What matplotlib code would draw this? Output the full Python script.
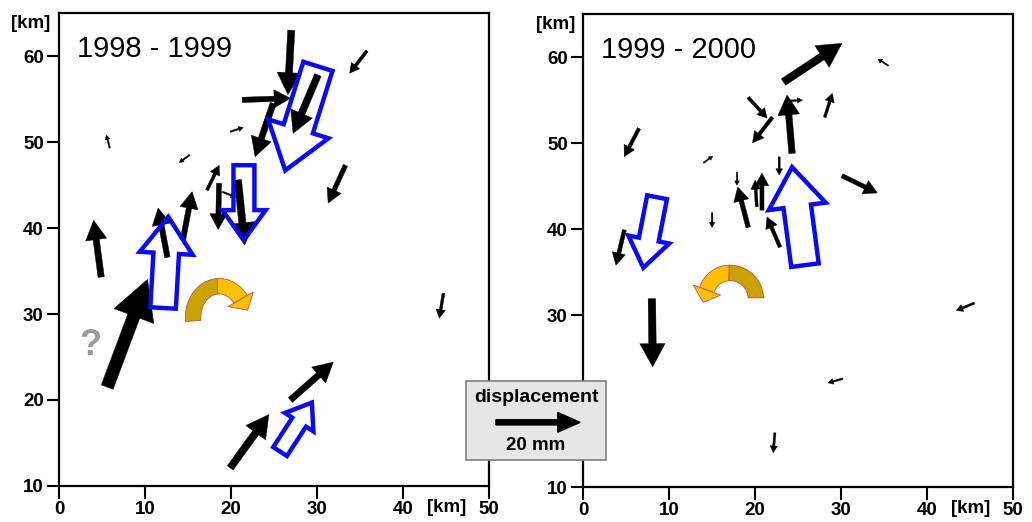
import numpy as np
import matplotlib.pyplot as plt
from matplotlib.patches import FancyArrow, Rectangle, Polygon

plt.rcParams['font.family'] = ['Liberation Sans', 'DejaVu Sans']

KM_PER_MM = 0.489   # 20 mm legend arrow ~ 9.8 km on the map

# 1998 - 1999 : station position [km], displacement east / north [mm]
x_98 = [27.0, 21.3, 24.9, 30.1, 35.8, 33.3, 5.9, 15.2, 19.9, 17.2,
        18.6, 19.0, 20.8, 4.9, 12.6, 14.4, 5.6, 19.9, 26.9, 44.7]
y_98 = [63.0, 54.9, 54.5, 57.8, 60.6, 47.3, 49.3, 48.5, 51.2, 44.4,
        45.2, 44.2, 45.6, 34.3, 36.6, 38.6, 21.5, 12.1, 20.0, 32.4]
de_98 = [-0.8, 11.5, -4.3, -5.9, -4.1, -4.1, -0.8, -2.5, 3.1, 2.9,
         -0.2, 3.1, 1.6, -1.8, -2.2, 2.2, 9.6, 9.2, 10.2, -1.0]
dn_98 = [-15.3, 0.4, -12.7, -13.9, -5.3, -9.0, 3.1, -1.8, 1.0, 5.9,
         -11.0, -1.2, -15.5, 13.5, 11.7, 11.5, 25.6, 12.7, 9.0, -5.9]

# 1999 - 2000
x_99 = [23.3, 35.5, 19.2, 22.0, 24.3, 23.8, 28.1, 6.5, 14.0, 22.8, 30.1,
        17.9, 19.2, 20.8, 20.2, 22.9, 15.0, 4.8, 8.0, 45.5, 30.2, 22.3]
y_99 = [57.1, 59.0, 55.3, 53.0, 48.8, 54.9, 53.0, 51.7, 47.7, 48.4, 46.2,
        46.6, 40.2, 42.2, 42.6, 37.9, 41.9, 39.9, 31.9, 31.4, 22.6, 16.3]
de_99 = [13.9, -2.5, 4.5, -4.7, -1.2, 3.5, 1.8, -3.5, 2.2, 0.0, 8.4,
         0.0, -2.5, 0.0, -0.4, -3.1, 0.0, -2.0, 0.2, -4.3, -3.5, -0.4]
dn_99 = [9.2, 1.6, -4.9, -6.1, 13.9, 0.2, 5.7, -6.7, 1.6, -4.3, -4.1,
         -3.1, 9.6, 8.8, 6.3, 7.2, -3.5, -8.4, -16.2, -1.8, -1.0, -4.7]

# block movements (hollow blue arrows): tail [km], vector [km]
bx_98 = [12.1, 21.5, 30.1, 25.7]
by_98 = [30.7, 47.3, 58.8, 14.0]
bdx_98 = [0.6, 0.0, -3.8, 3.7]
bdy_98 = [10.6, -8.7, -12.1, 5.7]

bx_99 = [25.8, 8.6]
by_99 = [35.8, 43.7]
bdx_99 = [-1.5, -1.6]
bdy_99 = [11.4, -8.2]

# rotation arrows: centre, radii, radius factor start/end, angle start/end
rot_98 = dict(cx=18.5, cy=29.5, rx=2.9, ry=3.5, f0=1.0, f1=1.1, t0=185, t1=35)
rot_99 = dict(cx=16.9, cy=32.0, rx=3.2, ry=3.2, f0=1.0, f1=0.83, t0=0, t1=160)

titles = ['1998 - 1999', '1999 - 2000']


def black_arrows(ax, xs, ys, de, dn):
    for x, y, e, n in zip(xs, ys, de, dn):
        dx, dy = e * KM_PER_MM, n * KM_PER_MM
        L = np.hypot(dx, dy)
        ax.add_patch(FancyArrow(x, y, dx, dy, width=0.11 * L, head_width=0.37 * L,
                                head_length=0.34 * L, length_includes_head=True,
                                fc='black', ec='black', lw=0.3, zorder=3))


def blue_arrows(ax, xs, ys, dxs, dys):
    for x, y, dx, dy in zip(xs, ys, dxs, dys):
        L = np.hypot(dx, dy)
        ax.add_patch(FancyArrow(x, y, dx, dy, width=0.28 * L, head_width=0.58 * L,
                                head_length=0.4 * L, length_includes_head=True,
                                fill=False, ec='#0a0af5', lw=3.2, joinstyle='miter',
                                zorder=4))


def curl(ax, cx, cy, rx, ry, f0, f1, t0, t1, w=1.8, hw=3.4, hl=1.5, split=0.5):
    t = np.radians(np.linspace(t0, t1, 100))
    f = np.linspace(f0, f1, t.size)
    mid = np.c_[cx + f * rx * np.cos(t), cy + f * ry * np.sin(t)]
    nrm = np.c_[np.cos(t) * ry, np.sin(t) * rx]
    nrm = nrm / np.hypot(nrm[:, 0], nrm[:, 1])[:, None]
    outer = mid + nrm * w / 2
    inner = mid - nrm * w / 2
    k = int(split * t.size)
    dark = np.vstack([outer[:k + 1], inner[:k + 1][::-1]])
    light = np.vstack([outer[k:], inner[k:][::-1]])
    ax.add_patch(Polygon(dark, fc='#c9a200', ec='#c0504d', lw=0.6, zorder=5))
    ax.add_patch(Polygon(light, fc='#ffc000', ec='#c0504d', lw=0.6, zorder=5))
    # head at the end of the ribbon
    p = mid[-1]
    tan = mid[-1] - mid[-2]
    tan = tan / np.hypot(*tan)
    u = nrm[-1]
    head = [p + u * hw / 2, p + tan * hl, p - u * hw / 2]
    ax.add_patch(Polygon(head, fc='#ffc000', ec='#c0504d', lw=0.6, zorder=6))


fig = plt.figure(figsize=(10.32, 5.22), dpi=100)
ax1 = fig.add_axes([0.0572, 0.069, 0.4167, 0.906])
ax2 = fig.add_axes([0.565, 0.067, 0.4167, 0.906])

for ax, title in zip([ax1, ax2], titles):
    ax.set_xlim(0, 50)
    ax.set_ylim(10, 65)
    ax.set_xticks(range(0, 51, 10))
    ax.set_yticks(range(10, 61, 10))
    ax.tick_params(length=9, width=1.5, pad=2, labelsize=13.5)
    for lab in ax.get_xticklabels() + ax.get_yticklabels():
        lab.set_fontweight('bold')
    for sp in ax.spines.values():
        sp.set_linewidth(1.6)
    ax.text(2.1, 60.8, title, fontsize=21, va='center', ha='left')
    ax.text(-0.065, 0.977, '[km]', transform=ax.transAxes, fontsize=13.5,
            fontweight='bold', ha='center', va='center')
    ax.text(0.902, -0.046, '[km]', transform=ax.transAxes, fontsize=13.5,
            fontweight='bold', ha='center', va='center')

# the "20" of the right panel sits under the scale box
ax2.set_yticklabels(['10', '', '30', '40', '50', '60'], fontweight='bold')

black_arrows(ax1, x_98, y_98, de_98, dn_98)
black_arrows(ax2, x_99, y_99, de_99, dn_99)
blue_arrows(ax1, bx_98, by_98, bdx_98, bdy_98)
blue_arrows(ax2, bx_99, by_99, bdx_99, bdy_99)
curl(ax1, split=0.62, **rot_98)
curl(ax2, split=0.55, **rot_99)

ax1.text(3.6, 26.3, '?', color='#999999', fontsize=26, fontweight='bold',
         ha='center', va='center')

# scale box between the panels
box = Rectangle((47.3, 13.0), 16.3, 9.2, transform=ax1.transData,
                fc='#e6e6e6', ec='#808080', lw=1.2, zorder=10)
fig.add_artist(box)
leg = FancyArrow(50.8, 17.4, 20 * KM_PER_MM, 0, width=0.6, head_width=2.3,
                 head_length=2.6, length_includes_head=True, fc='black',
                 ec='black', transform=ax1.transData, zorder=11)
fig.add_artist(leg)
fig.text(0.5195, (522 - 397) / 522, 'displacement', fontsize=14,
         fontweight='bold', ha='center', va='center', zorder=12)
fig.text(0.5195, (522 - 445) / 522, '20 mm', fontsize=13.5,
         fontweight='bold', ha='center', va='center', zorder=12)

fig.savefig('out.png', dpi=100)
